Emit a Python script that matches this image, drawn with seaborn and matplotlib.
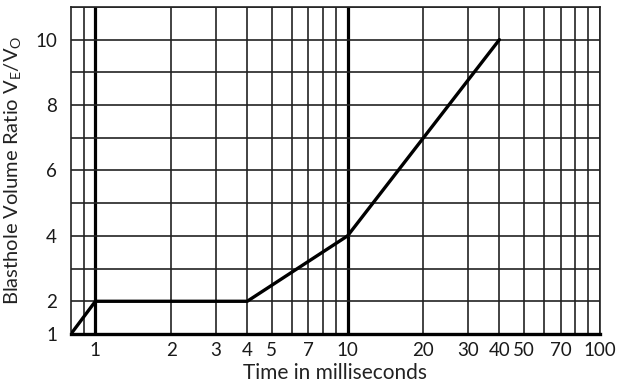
import matplotlib
matplotlib.use("Agg")
import matplotlib.pyplot as plt
import matplotlib.ticker as mticker
import seaborn as sns
import pandas as pd

# Data
time_ms = [0.8, 1, 4, 10, 20, 40]
volume_ratio = [1, 2, 2, 4, 7, 10]

x_tick_labels = [1, 2, 3, 4, 5, 7, 10, 20, 30, 40, 50, 70, 100]
x_grid_extra = [0.9, 6, 8, 9, 60, 80, 90]
y_tick_labels = [1, 2, 4, 6, 8, 10]
y_grid = list(range(1, 12))
emphasized_x = [1, 10]

sns.set_style("white")
plt.rcParams['font.family'] = ['Lato', 'DejaVu Sans']
plt.rcParams['mathtext.fontset'] = 'custom'
plt.rcParams['mathtext.rm'] = 'Lato'

df = pd.DataFrame({"t": time_ms, "r": volume_ratio})

fig = plt.figure(figsize=(6.17, 3.87), dpi=100)
ax = fig.add_axes([0.115, 0.137, 0.857, 0.845])

ax.set_xscale("log")
ax.set_xlim(0.8, 100)
ax.set_ylim(1, 11)

gc = "#222222"
gw = 1.2
for xv in x_tick_labels + x_grid_extra:
    lw = 2.3 if xv in emphasized_x else gw
    ax.axvline(xv, color="black" if xv in emphasized_x else gc, lw=lw, zorder=1)
for yv in y_grid:
    ax.axhline(yv, color=gc, lw=gw, zorder=1)

sns.lineplot(data=df, x="t", y="r", ax=ax, color="black", lw=2.4, zorder=3)

ax.xaxis.set_major_locator(mticker.FixedLocator(x_tick_labels))
ax.xaxis.set_major_formatter(mticker.FixedFormatter([str(v) for v in x_tick_labels]))
ax.xaxis.set_minor_locator(mticker.NullLocator())
ax.set_yticks(y_tick_labels)
ax.set_yticklabels([str(v) for v in y_tick_labels])
ax.tick_params(axis="both", length=0, labelsize=13.5, colors="#1a1a1a")
ax.tick_params(axis="x", pad=6)
ax.tick_params(axis="y", pad=10)

for s in ["left", "right", "top"]:
    ax.spines[s].set_color(gc)
    ax.spines[s].set_linewidth(gw)
ax.spines["bottom"].set_color("black")
ax.spines["bottom"].set_linewidth(2.4)
ax.spines["bottom"].set_zorder(4)

ax.set_xlabel("Time in milliseconds", fontsize=15, color="#222222", labelpad=3)
ax.set_ylabel(r"Blasthole Volume Ratio V$_{\mathrm{E}}$/V$_{\mathrm{O}}$", fontsize=14.5, color="#222222", labelpad=8)

fig.savefig("out.png", dpi=100)
